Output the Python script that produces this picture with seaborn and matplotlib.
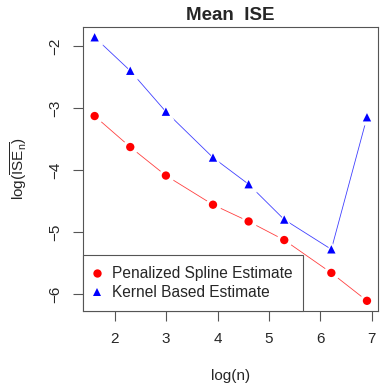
import numpy as np
import pandas as pd
import matplotlib
matplotlib.use('Agg')
import matplotlib.pyplot as plt
import seaborn as sns

# sample sizes and mean ISE (log scale)
n_values = [5, 10, 20, 50, 100, 200, 500, 1000]
spline_log_ise = [-3.13, -3.63, -4.09, -4.56, -4.83, -5.13, -5.66, -6.11]
kernel_log_ise = [-1.86, -2.40, -3.06, -3.80, -4.23, -4.80, -5.28, -3.15]
series_names = ['Penalized Spline Estimate', 'Kernel Based Estimate']

df = pd.DataFrame({
    'logn': np.log(n_values * 2),
    'logise': spline_log_ise + kernel_log_ise,
    'method': [series_names[0]] * 8 + [series_names[1]] * 8,
})

sns.set_style('ticks')
plt.rcParams['font.family'] = ['Liberation Sans', 'DejaVu Sans']
plt.rcParams['mathtext.fontset'] = 'custom'
plt.rcParams['mathtext.rm'] = 'Liberation Sans'
plt.rcParams['mathtext.it'] = 'Liberation Sans'

fig = plt.figure(figsize=(3.88, 3.88), dpi=100)
ax = fig.add_axes([0.2139, 0.1985, 0.9742 - 0.2139, 0.9304 - 0.1985])

palette = {series_names[0]: 'red', series_names[1]: 'blue'}
markers = {series_names[0]: 'o', series_names[1]: '^'}

# thin connecting lines (R type = "b")
sns.lineplot(data=df, x='logn', y='logise', hue='method', palette=palette,
             lw=0.6, alpha=0.75, legend=False, ax=ax, zorder=1, sort=False)
# white gaps around points
for name in series_names:
    sub = df[df['method'] == name]
    ax.scatter(sub['logn'], sub['logise'], s=130, c='white',
               marker=markers[name], linewidths=0, zorder=2)
sns.scatterplot(data=df, x='logn', y='logise', hue='method', style='method',
                palette=palette, markers=markers, s=36, linewidth=0,
                ax=ax, zorder=3)

ax.set_xlim(1.383, 7.122)
ax.set_ylim(-6.274, -1.694)
ax.set_xticks([2, 3, 4, 5, 6, 7])
ax.set_yticks([-2, -3, -4, -5, -6])
ax.set_yticklabels(['\u22122', '\u22123', '\u22124', '\u22125', '\u22126'],
                   rotation=90, va='center')
ax.tick_params(axis='both', length=7, width=0.8, color='#555555',
               labelsize=11, pad=8)

for sp in ax.spines.values():
    sp.set_visible(True)
    sp.set_color('#555555')
    sp.set_linewidth(0.8)

ax.set_title('Mean  ISE', fontsize=13.5, fontweight='bold', pad=5)
ax.set_xlabel('log(n)', fontsize=11, labelpad=17)
ax.set_ylabel(r'log$(\overline{\mathrm{ISE}_{n}})$', fontsize=11, labelpad=14)

leg = ax.legend(loc='lower left', bbox_to_anchor=(0, 0), fontsize=11.2,
                frameon=True, fancybox=False, borderaxespad=0,
                handletextpad=0.75, borderpad=0.7, markerscale=1.0,
                handlelength=0.4, labelspacing=0.25)
leg.get_frame().set_edgecolor('#555555')
leg.get_frame().set_linewidth(0.8)
leg.get_frame().set_alpha(1)
leg.set_zorder(5)

plt.savefig('out.png', dpi=100)
